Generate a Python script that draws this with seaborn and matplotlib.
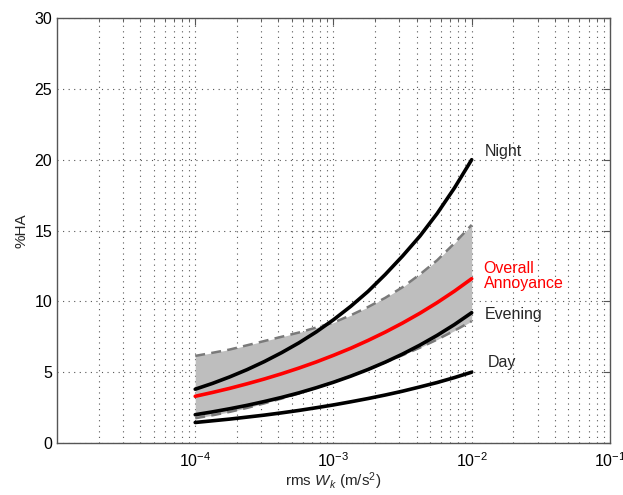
import numpy as np
import pandas as pd
import matplotlib
matplotlib.use("Agg")
import matplotlib.pyplot as plt
import seaborn as sns
from matplotlib.ticker import LogLocator, NullFormatter

# data (x at eighth decades from 1e-4 to 1e-2)
x_vals = [1.0e-4, 1.334e-4, 1.778e-4, 2.371e-4, 3.162e-4, 4.217e-4, 5.623e-4, 7.499e-4,
          1.0e-3, 1.334e-3, 1.778e-3, 2.371e-3, 3.162e-3, 4.217e-3, 5.623e-3, 7.499e-3, 1.0e-2]
night = [3.8, 4.21, 4.67, 5.18, 5.75, 6.38, 7.07, 7.84, 8.7, 9.65, 10.7, 11.9, 13.2, 14.6, 16.2, 18.0, 20.0]
overall = [3.3, 3.57, 3.86, 4.18, 4.52, 4.89, 5.29, 5.72, 6.19, 6.69, 7.24, 7.83, 8.47, 9.16, 9.91, 10.72, 11.6]
evening = [2.0, 2.2, 2.42, 2.66, 2.93, 3.22, 3.54, 3.9, 4.29, 4.72, 5.19, 5.71, 6.28, 6.91, 7.6, 8.36, 9.2]
day = [1.45, 1.57, 1.69, 1.83, 1.97, 2.13, 2.30, 2.49, 2.69, 2.91, 3.14, 3.39, 3.66, 3.96, 4.27, 4.62, 5.0]
band_upper = [6.15, 6.37, 6.6, 6.9, 7.2, 7.5, 7.8, 8.15, 8.5, 9.02, 9.6, 10.25, 11.0, 11.9, 12.9, 14.1, 15.4]
band_lower = [1.75, 1.96, 2.2, 2.48, 2.8, 3.14, 3.5, 3.9, 4.3, 4.74, 5.2, 5.7, 6.2, 6.73, 7.3, 7.93, 8.6]

sns.set_style("white")
plt.rcParams['font.family'] = ['Liberation Sans', 'DejaVu Sans']
plt.rcParams['mathtext.fontset'] = 'custom'
plt.rcParams['mathtext.rm'] = 'Liberation Sans'
plt.rcParams['mathtext.it'] = 'Liberation Sans:italic'

fig = plt.figure(figsize=(6.23, 4.95), dpi=100)
ax = fig.add_axes([0.0915, 0.105, 0.8875, 0.8586])

df = pd.DataFrame({"x": x_vals, "night": night, "overall": overall,
                   "evening": evening, "day": day,
                   "upper": band_upper, "lower": band_lower})

ax.fill_between(df["x"], df["lower"], df["upper"], color="#bebebe", lw=0, zorder=1)
sns.lineplot(data=df, x="x", y="upper", ax=ax, color="#7a7a7a", lw=1.8,
             linestyle=(0, (4, 2.5)), zorder=2)
sns.lineplot(data=df, x="x", y="lower", ax=ax, color="#7a7a7a", lw=1.8,
             linestyle=(0, (4, 2.5)), zorder=2)
for col in ["night", "evening", "day"]:
    sns.lineplot(data=df, x="x", y=col, ax=ax, color="black", lw=2.6, zorder=3)
sns.lineplot(data=df, x="x", y="overall", ax=ax, color="#ff0000", lw=2.6, zorder=4)

ax.set_xscale("log")
ax.set_xlim(1e-5, 1e-1)
ax.set_ylim(0, 30)
ax.set_xticks([1e-4, 1e-3, 1e-2, 1e-1])
ax.set_xticklabels([r"$10^{-4}$", r"$10^{-3}$", r"$10^{-2}$", r"$10^{-1}$"])
ax.xaxis.set_minor_locator(LogLocator(base=10, subs=np.arange(2, 10), numticks=20))
ax.xaxis.set_minor_formatter(NullFormatter())
ax.set_yticks([0, 5, 10, 15, 20, 25, 30])

ax.grid(which="major", axis="both", color="#555555", linestyle=(0, (1, 4)), lw=0.8)
ax.grid(which="minor", axis="x", color="#555555", linestyle=(0, (1, 4)), lw=0.8)

ax.tick_params(which="both", direction="in", top=True, right=True,
               colors="#555555", labelcolor="black", labelsize=11.5)
ax.tick_params(which="major", length=5)
ax.tick_params(which="minor", length=3)
ax.tick_params(axis="x", which="major", pad=6)
for s in ax.spines.values():
    s.set_color("#555555")
    s.set_linewidth(1.0)

ax.set_xlabel(r"rms $W_k$ (m/s$^2$)", fontsize=11, labelpad=0)
ax.set_ylabel("%HA", fontsize=11)

ax.text(0.0124, 20.6, "Night", fontsize=11.5, ha="left", va="center")
ax.text(0.0122, 11.8, "Overall\nAnnoyance", fontsize=11.5, ha="left", va="center",
        color="#ff0000", linespacing=1.0)
ax.text(0.0124, 9.1, "Evening", fontsize=11.5, ha="left", va="center")
ax.text(0.0130, 5.7, "Day", fontsize=11.5, ha="left", va="center")

fig.savefig("out.png", dpi=100)
